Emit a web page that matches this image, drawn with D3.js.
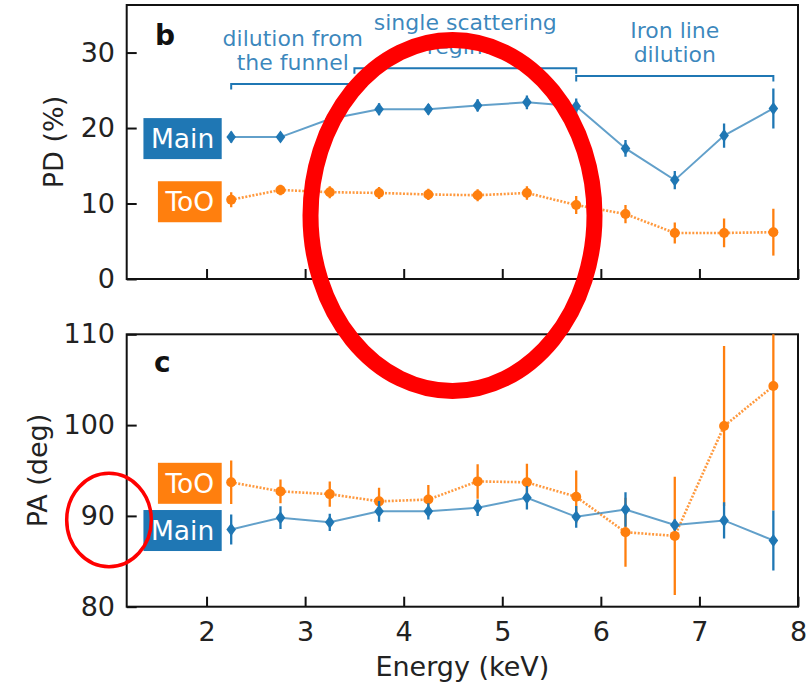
<!DOCTYPE html>
<html>
<head>
<meta charset="utf-8">
<script src="https://cdn.jsdelivr.net/npm/d3@7"></script>
<style>
  html, body { margin: 0; padding: 0; background: #fff; }
  svg { display: block; font-family: "DejaVu Sans", sans-serif; }
</style>
</head>
<body>
<svg id="chart" width="807" height="685"></svg>
<script>
// ---- data ----
const energy = [2.25, 2.75, 3.25, 3.75, 4.25, 4.75, 5.25, 5.75, 6.25, 6.75, 7.25, 7.75];

// polarization degree (%)
const pdMain    = [18.8, 18.8, 21.2, 22.5, 22.5, 23.0, 23.4, 22.9, 17.3, 13.1, 19.0, 22.6];
const pdMainErr = [0.7, 0.6, 0.7, 0.8, 0.7, 0.8, 0.9, 1.0, 1.1, 1.2, 1.6, 2.65];
const pdToO     = [10.5, 11.8, 11.5, 11.4, 11.2, 11.1, 11.4, 9.8, 8.6, 6.1, 6.1, 6.2];
const pdToOErr  = [1.0, 0.7, 0.8, 0.8, 0.75, 0.8, 0.9, 1.2, 1.2, 1.4, 1.9, 3.1];

// polarization angle (deg)
const paMain    = [88.5, 89.8, 89.3, 90.5, 90.5, 90.9, 92.0, 89.9, 90.7, 89.0, 89.5, 87.3];
const paMainErr = [1.65, 1.25, 0.95, 1.15, 0.9, 0.9, 1.3, 1.2, 1.9, 0.6, 2.0, 3.3];
const paToO     = [93.7, 92.7, 92.4, 91.6, 91.8, 93.8, 93.7, 92.1, 88.2, 87.8, 99.9, 104.3];
const paToOErr  = [2.4, 1.3, 1.4, 1.5, 1.6, 1.9, 2.05, 2.9, 3.8, 6.5, 8.8, 13.7];

const xTicks  = [2, 3, 4, 5, 6, 7, 8];
const pdTicks = [0, 10, 20, 30];
const paTicks = [80, 90, 100, 110];

const regionLabels = [["dilution from", "the funnel"], ["single scattering", "regime"], ["Iron line", "dilution"]];
const regionFrom   = [2.25, 3.5, 5.75];
const regionTo     = [3.5, 5.75, 7.75];

// ---- layout ----
const W = 807, H = 685;
const plotLeft = 126.7, plotRight = 798;
const bracketY = [84, 68.3, 76];          // pixel height of each region bracket
const blue = "#1f77b4", orange = "#ff7f0e";
const tickFont = 27;

const svg = d3.select("#chart");

const x = d3.scaleLinear().domain([1.19, 8]).range([plotLeft, plotRight]);
const yPD = d3.scaleLinear().domain([0, 36.3]).range([279, 5]);
const yPA = d3.scaleLinear().domain([80, 110]).range([606.7, 334.3]);

function drawPanel(id, y, yTicks, showXLabels) {
  const [yb, yt] = y.range();
  const g = svg.append("g").attr("class", "panel-" + id);

  g.append("clipPath").attr("id", "clip-" + id)
    .append("rect").attr("x", plotLeft).attr("y", yt)
    .attr("width", plotRight - plotLeft).attr("height", yb - yt);

  // y axis, ticks pointing inward
  const ya = g.append("g").attr("transform", `translate(${plotLeft},0)`)
    .call(d3.axisLeft(y).tickValues(yTicks).tickSizeInner(-10).tickSizeOuter(0).tickPadding(11.7));
  // x axis, ticks pointing inward
  const xa = g.append("g").attr("transform", `translate(0,${yb})`)
    .call(d3.axisBottom(x).tickValues(xTicks).tickSizeInner(-10).tickSizeOuter(0).tickPadding(15)
      .tickFormat(showXLabels ? d3.format("d") : () => ""));
  [ya, xa].forEach(a => {
    a.select(".domain").remove();
    a.selectAll(".tick line").attr("stroke", "#111").attr("stroke-width", 2);
    a.selectAll(".tick text").attr("fill", "#222").attr("font-size", tickFont)
      .attr("font-family", "DejaVu Sans, sans-serif");
  });

  // frame
  g.append("rect").attr("x", plotLeft).attr("y", yt)
    .attr("width", plotRight - plotLeft).attr("height", yb - yt)
    .attr("fill", "none").attr("stroke", "#111").attr("stroke-width", 2);
  return g;
}

function drawSeries(g, id, y, vals, errs, color, kind) {
  const data = energy.map((e, i) => ({ e, v: vals[i], err: errs[i] }));
  const s = g.append("g").attr("clip-path", `url(#clip-${id})`);
  const line = d3.line().x(d => x(d.e)).y(d => y(d.v));
  s.append("path").datum(data).attr("d", line).attr("fill", "none")
    .attr("stroke", color)
    .attr("stroke-width", kind === "dot" ? 2.6 : 2)
    .attr("stroke-opacity", kind === "dot" ? 0.8 : 0.7)
    .attr("stroke-dasharray", kind === "dot" ? "2,1.6" : null);
  s.selectAll("line.err").data(data).join("line").attr("class", "err")
    .attr("x1", d => x(d.e)).attr("x2", d => x(d.e))
    .attr("y1", d => y(d.v - d.err)).attr("y2", d => y(d.v + d.err))
    .attr("stroke", color).attr("stroke-width", 2.3);
  if (kind === "dot") {
    s.selectAll("circle.mk").data(data).join("circle").attr("class", "mk")
      .attr("cx", d => x(d.e)).attr("cy", d => y(d.v)).attr("r", 5).attr("fill", color);
  } else {
    s.selectAll("path.mk").data(data).join("path").attr("class", "mk")
      .attr("d", d => {
        const cx = x(d.e), cy = y(d.v);
        return `M${cx},${cy - 6.5}L${cx + 4.8},${cy}L${cx},${cy + 6.5}L${cx - 4.8},${cy}Z`;
      })
      .attr("fill", color);
  }
}

function tag(g, label, color, cy) {
  const boxRight = 221.7, pad = 7.5, h = 41;
  const t = g.append("text").attr("x", boxRight - pad).attr("y", cy).attr("dy", "0.36em")
    .attr("text-anchor", "end").attr("font-size", 26.5).attr("fill", "#fff").text(label);
  const w = t.node().getComputedTextLength() + 2 * pad;
  g.insert("rect", () => t.node())
    .attr("x", boxRight - w).attr("y", cy - h / 2).attr("width", w).attr("height", h)
    .attr("fill", color);
}

// ---- top panel: PD ----
const gTop = drawPanel("pd", yPD, pdTicks, false);
drawSeries(gTop, "pd", yPD, pdToO, pdToOErr, orange, "dot");
drawSeries(gTop, "pd", yPD, pdMain, pdMainErr, blue, "solid");
tag(gTop, "Main", blue, yPD(pdMain[0]) + 1.5);
tag(gTop, "ToO", orange, yPD(pdToO[0]) + 2);
gTop.append("text").attr("x", 155).attr("y", 45).attr("font-size", 28)
  .attr("font-weight", "bold").attr("fill", "#111").text("b");

// region brackets and labels
regionLabels.forEach((lines, i) => {
  const x0 = x(regionFrom[i]), x1 = x(regionTo[i]), by = bracketY[i];
  gTop.append("path")
    .attr("d", `M${x0},${by + 5.5}V${by}H${x1}V${by + 5.5}`)
    .attr("fill", "none").attr("stroke", blue).attr("stroke-width", 2);
  const cx = (x0 + x1) / 2;
  lines.forEach((ln, j) => {
    gTop.append("text").attr("x", cx).attr("y", by - 38.5 + j * 24.4)
      .attr("text-anchor", "middle").attr("font-size", 22)
      .attr("fill", blue).attr("fill-opacity", 0.88).text(ln);
  });
});

gTop.append("text")
  .attr("transform", `translate(63,${(yPD.range()[0] + yPD.range()[1]) / 2}) rotate(-90)`)
  .attr("text-anchor", "middle").attr("font-size", 27).attr("fill", "#222").text("PD (%)");

// ---- bottom panel: PA ----
const gBot = drawPanel("pa", yPA, paTicks, true);
drawSeries(gBot, "pa", yPA, paToO, paToOErr, orange, "dot");
drawSeries(gBot, "pa", yPA, paMain, paMainErr, blue, "solid");
tag(gBot, "ToO", orange, yPA(paToO[0]) + 1);
tag(gBot, "Main", blue, yPA(paMain[0]) + 1);
gBot.append("text").attr("x", 154).attr("y", 372).attr("font-size", 28)
  .attr("font-weight", "bold").attr("fill", "#111").text("c");

gBot.append("text")
  .attr("transform", `translate(47,${(yPA.range()[0] + yPA.range()[1]) / 2}) rotate(-90)`)
  .attr("text-anchor", "middle").attr("font-size", 27).attr("fill", "#222").text("PA (deg)");

svg.append("text").attr("x", (plotLeft + plotRight) / 2).attr("y", 676)
  .attr("text-anchor", "middle").attr("font-size", 27).attr("fill", "#222").text("Energy (keV)");

// ---- red highlight rings ----
svg.append("ellipse").attr("cx", 452.5).attr("cy", 215.5).attr("rx", 142).attr("ry", 175.5)
  .attr("fill", "none").attr("stroke", "#ff0000").attr("stroke-width", 16);
svg.append("ellipse").attr("cx", 109).attr("cy", 520).attr("rx", 42.3).attr("ry", 46.7)
  .attr("fill", "none").attr("stroke", "#ff0000").attr("stroke-width", 3.5);
</script>
</body>
</html>
